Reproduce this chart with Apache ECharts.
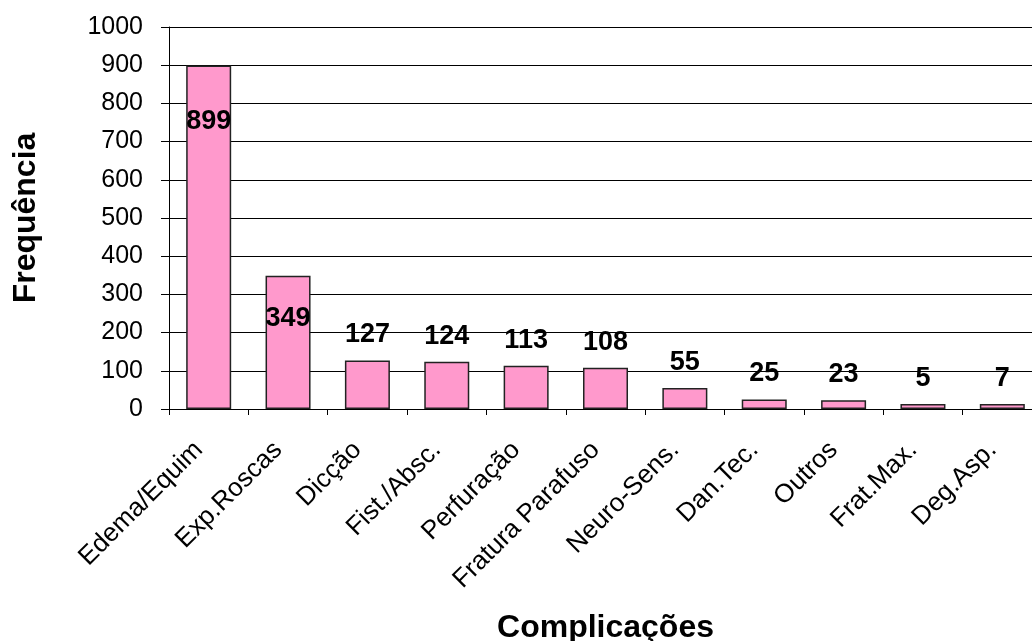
<!DOCTYPE html>
<html><head><meta charset="utf-8">
<script src="https://cdn.jsdelivr.net/npm/echarts@6/dist/echarts.min.js"></script>
<style>html,body{margin:0;padding:0;background:#fff;overflow:hidden}#c{width:1032px;height:641px}</style>
</head><body><div id="c"></div>
<script>
const categories = ['Edema/Equim','Exp.Roscas','Dicção','Fist./Absc.','Perfuração','Fratura Parafuso','Neuro-Sens.','Dan.Tec.','Outros','Frat.Max.','Deg.Asp.'];
const values = [899,349,127,124,113,108,55,25,23,5,7];
const yTicks = [0,100,200,300,400,500,600,700,800,900,1000];

const FONT = 'Liberation Sans, Arial, sans-serif';
const labelOverrides = {0:{position:'insideTop',distance:42}, 1:{position:'insideTop',distance:29}};
const data = values.map((v,i)=>{
  const o = {value:v};
  if (labelOverrides[i]) o.label = labelOverrides[i];
  return o;
});

const chart = echarts.init(document.getElementById('c'));
chart.setOption({
  animation:false,
  backgroundColor:'#fff',
  grid:{left:169, top:27, width:873, height:382, containLabel:false, outerBoundsMode:'none'},
  xAxis:{
    type:'category', data:categories,
    name:'Complicações', nameLocation:'middle', nameGap:203,
    nameTextStyle:{fontFamily:FONT, fontSize:32, fontWeight:'bold', color:'#000'},
    axisLine:{lineStyle:{color:'#000', width:1}},
    axisTick:{show:true, alignWithLabel:false, length:6, lineStyle:{color:'#000'}},
    axisLabel:{rotate:45, fontFamily:FONT, fontSize:26, color:'#000', margin:27, interval:0, padding:[0,14,0,0]}
  },
  yAxis:{
    type:'value', min:0, max:1000, interval:100,
    name:'Frequência', nameLocation:'middle', nameGap:127,
    nameTextStyle:{fontFamily:FONT, fontSize:32, fontWeight:'bold', color:'#000'},
    axisLine:{show:true, lineStyle:{color:'#000', width:1}},
    axisTick:{show:true, length:8, lineStyle:{color:'#000'}},
    axisLabel:{fontFamily:FONT, fontSize:25, color:'#000', margin:26,
      formatter:(v)=> yTicks.includes(v) ? String(v) : ''},
    splitLine:{show:true, lineStyle:{color:'#000', width:1}}
  },
  series:[{
    type:'bar', data:data, barWidth:45, barMinHeight:5,
    itemStyle:{color:'#FF99CC', borderColor:'#222', borderWidth:1.5},
    label:{show:true, position:'top', distance:12, fontFamily:FONT, fontSize:27, fontWeight:'bold', color:'#000'}
  }]
});
</script></body></html>
